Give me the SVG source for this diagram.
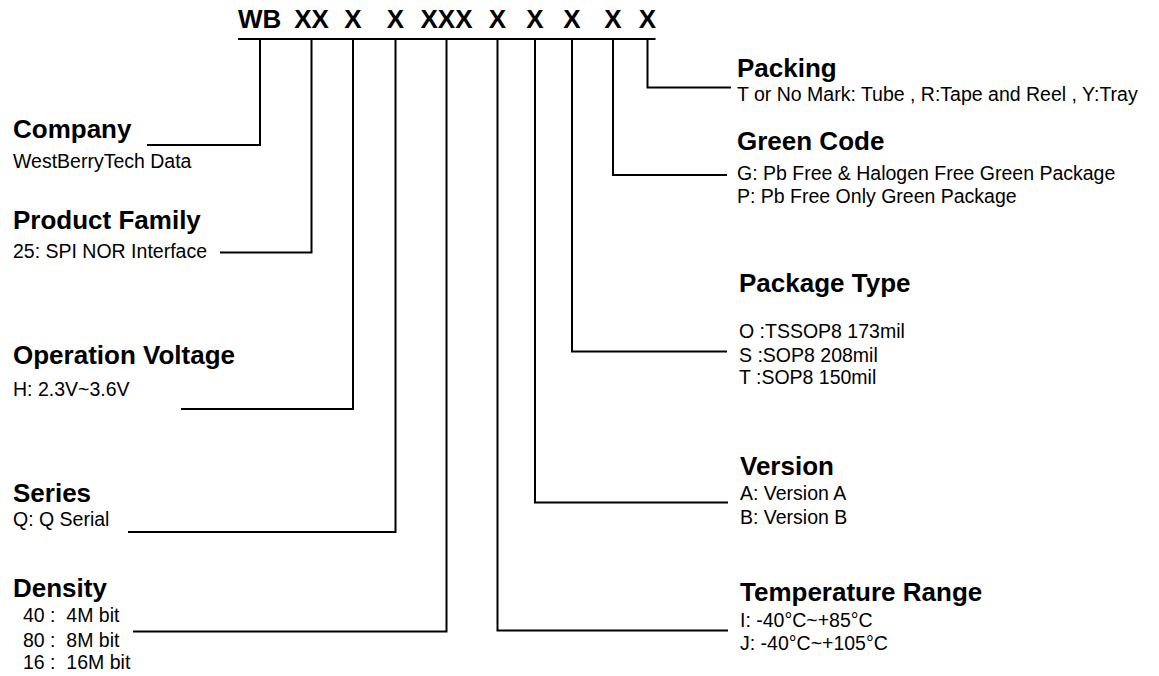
<svg xmlns="http://www.w3.org/2000/svg" width="1159" height="676" viewBox="0 0 1159 676">
<style>
text{font-family:"Liberation Sans",Arial,sans-serif;fill:#000;white-space:pre}
.h{font-size:26px;font-weight:bold}
.t{font-size:26px;font-weight:bold}
.b{font-size:19.5px}
.c{fill:none;stroke:#000;stroke-width:2}
</style>
<rect width="1159" height="676" fill="#fff"/>
<g id="header">
<text class="h" x="238" y="28">WB</text>
<text class="h" x="311.5" y="28" text-anchor="middle">XX</text>
<text class="h" x="353" y="28" text-anchor="middle">X</text>
<text class="h" x="395.5" y="28" text-anchor="middle">X</text>
<text class="h" x="446.5" y="28" text-anchor="middle">XXX</text>
<text class="h" x="497.5" y="28" text-anchor="middle">X</text>
<text class="h" x="535" y="28" text-anchor="middle">X</text>
<text class="h" x="572" y="28" text-anchor="middle">X</text>
<text class="h" x="613" y="28" text-anchor="middle">X</text>
<text class="h" x="647.5" y="28" text-anchor="middle">X</text>
</g>
<g id="connectors">
<line class="c" x1="238" y1="39" x2="655.5" y2="39"/>
<path class="c" d="M260,39 V145 H147"/>
<path class="c" d="M311.5,39 V252.5 H220"/>
<path class="c" d="M353,39 V409 H181"/>
<path class="c" d="M395.5,39 V532 H128"/>
<path class="c" d="M446.5,39 V631.5 H133"/>
<path class="c" d="M497.5,39 V630.5 H728"/>
<path class="c" d="M535,39 V502.5 H728"/>
<path class="c" d="M572,39 V351.5 H727"/>
<path class="c" d="M613,39 V175 H727"/>
<path class="c" d="M647.5,39 V87.5 H731"/>
</g>
<g id="company">
<text class="t" x="13" y="138">Company</text>
<text class="b" x="13" y="168">WestBerryTech Data</text>
</g>
<g id="product-family">
<text class="t" x="13" y="229">Product Family</text>
<text class="b" x="13" y="258">25: SPI NOR Interface</text>
</g>
<g id="operation-voltage">
<text class="t" x="13" y="364">Operation Voltage</text>
<text class="b" x="13" y="395.5">H: 2.3V~3.6V</text>
</g>
<g id="series">
<text class="t" x="13" y="502">Series</text>
<text class="b" x="13" y="525.5">Q: Q Serial</text>
</g>
<g id="density">
<text class="t" x="13" y="596.5">Density</text>
<text class="b" x="23" y="621.5">40 :  4M bit</text>
<text class="b" x="23" y="646.5">80 :  8M bit</text>
<text class="b" x="23" y="669">16 :  16M bit</text>
</g>
<g id="packing">
<text class="t" x="737" y="77">Packing</text>
<text class="b" x="737" y="101">T or No Mark: Tube , R:Tape and Reel , Y:Tray</text>
</g>
<g id="green-code">
<text class="t" x="737" y="150">Green Code</text>
<text class="b" x="737" y="180">G: Pb Free &amp; Halogen Free Green Package</text>
<text class="b" x="737" y="202.5">P: Pb Free Only Green Package</text>
</g>
<g id="package-type">
<text class="t" x="739" y="292">Package Type</text>
<text class="b" x="739" y="338">O :TSSOP8 173mil</text>
<text class="b" x="739" y="361.5">S :SOP8 208mil</text>
<text class="b" x="739" y="384">T :SOP8 150mil</text>
</g>
<g id="version">
<text class="t" x="740" y="475">Version</text>
<text class="b" x="740" y="499.5">A: Version A</text>
<text class="b" x="740" y="523.5">B: Version B</text>
</g>
<g id="temperature-range">
<text class="t" x="740" y="600.5">Temperature Range</text>
<text class="b" x="740" y="626.5">I: -40°C~+85°C</text>
<text class="b" x="740" y="650">J: -40°C~+105°C</text>
</g>
</svg>
